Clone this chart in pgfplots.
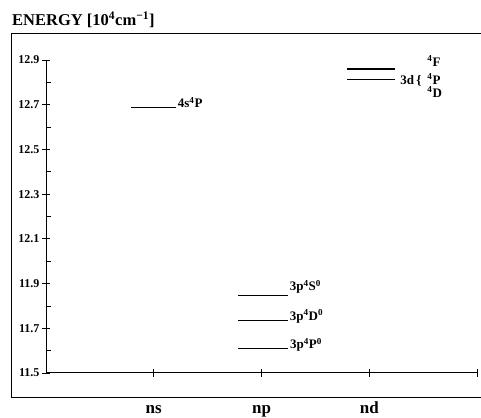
\documentclass[border=0pt]{standalone}
\usepackage{fontspec}
\setmainfont{Liberation Serif}
\usepackage{pgfplots}
\pgfplotsset{compat=1.18}

\begin{document}
\begin{tikzpicture}[x=1pt,y=1pt]
\useasboundingbox (0,0) rectangle (481,417);
% outer frame and title
\draw[line width=1pt] (11,20) rectangle (481,383);
\node[anchor=base west, inner sep=0pt, font=\bfseries\fontsize{16.5}{19}\selectfont]
  at (12,391) {ENERGY [10\textsuperscript{4}cm\textsuperscript{−1}]};
\begin{axis}[
  at={(46pt,44pt)}, anchor=south west,
  scale only axis, width=431pt, height=313pt,
  xmin=0, xmax=4, ymin=11.5, ymax=12.9,
  axis x line=bottom, axis y line=left,
  axis line style={-, line width=1pt},
  xtick={1,2,3,4}, xticklabels={ns,np,nd,{}},
  ytick={11.5,11.7,11.9,12.1,12.3,12.5,12.7,12.9},
  minor ytick={11.6,11.8,12.0,12.2,12.4,12.6,12.8},
  tick align=center, major tick length=8pt, minor tick length=5pt,
  minor y tick style={xshift=2.5pt},
  tick style={line width=0.8pt, black},
  xticklabel style={anchor=base, yshift=-36.5pt, font=\bfseries\fontsize{17}{19}\selectfont},
  yticklabel style={font=\bfseries\fontsize{12}{14}\selectfont, xshift=1pt,
    /pgf/number format/fixed, /pgf/number format/precision=1,
    /pgf/number format/fixed zerofill},
  /pgf/number format/assume math mode=true,
  clip=false,
]
% 4s
\addplot[black, line width=0.9pt] coordinates {(0.789,12.688) (1.206,12.688)}
  node[pos=1, anchor=base west, inner sep=1.5pt, font=\bfseries\fontsize{13}{15}\selectfont]
  {4s\textsuperscript{4}P};
% 3p
\addplot[black, line width=0.9pt] coordinates {(1.782,11.849) (2.246,11.849)}
  node[pos=1, anchor=base west, inner sep=1.5pt, yshift=4pt, font=\bfseries\fontsize{13}{15}\selectfont]
  {3p\textsuperscript{4}S\textsuperscript{0}};
\addplot[black, line width=0.9pt] coordinates {(1.782,11.737) (2.246,11.737)}
  node[pos=1, anchor=base west, inner sep=1.5pt, font=\bfseries\fontsize{13}{15}\selectfont]
  {3p\textsuperscript{4}D\textsuperscript{0}};
\addplot[black, line width=1.1pt] coordinates {(1.782,11.608) (2.246,11.608)}
  node[pos=1, anchor=base west, inner sep=1.5pt, font=\bfseries\fontsize{13}{15}\selectfont]
  {3p\textsuperscript{4}P\textsuperscript{0}};
% 3d
\addplot[black, line width=2.2pt] coordinates {(2.793,12.858) (3.239,12.858)};
\addplot[black, line width=0.9pt] coordinates {(2.793,12.814) (3.239,12.814)}
  node[pos=1, anchor=base west, inner sep=0pt, xshift=5pt, yshift=-5pt, font=\bfseries\fontsize{13}{15}\selectfont]
  {3d\,\{}
  node[pos=1, anchor=base west, inner sep=0pt, xshift=32pt, yshift=13pt, font=\bfseries\fontsize{13}{15}\selectfont]
  {\textsuperscript{4}F}
  node[pos=1, anchor=base west, inner sep=0pt, xshift=32pt, yshift=-5pt, font=\bfseries\fontsize{13}{15}\selectfont]
  {\textsuperscript{4}P}
  node[pos=1, anchor=base west, inner sep=0pt, xshift=32pt, yshift=-18pt, font=\bfseries\fontsize{13}{15}\selectfont]
  {\textsuperscript{4}D};
\end{axis}
\end{tikzpicture}
\end{document}
